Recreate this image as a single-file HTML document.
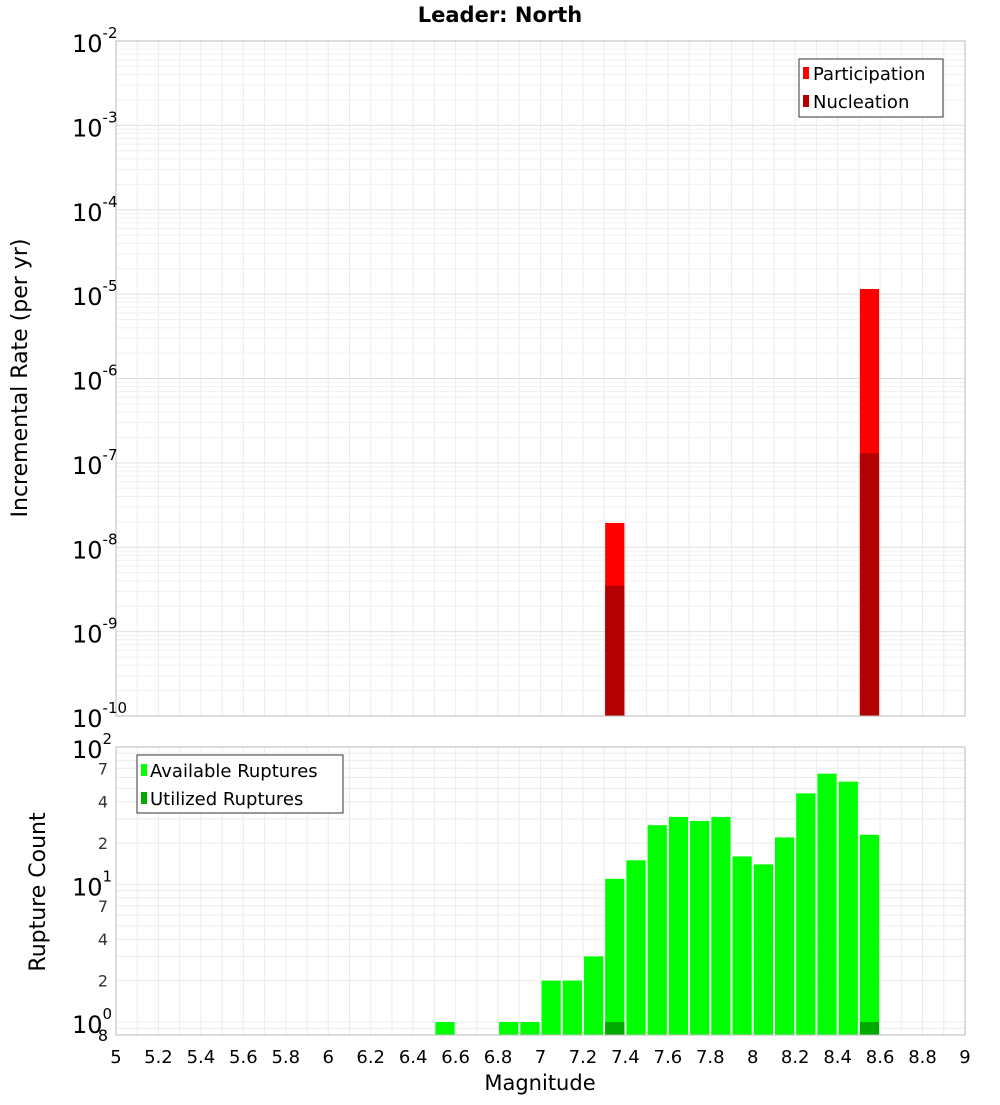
<!DOCTYPE html>
<html><head><meta charset="utf-8"><style>
body{margin:0;background:#fff;width:1000px;height:1100px;overflow:hidden}
svg text{font-family:"DejaVu Sans","Liberation Sans",sans-serif}
</style></head><body>
<svg id="c" width="1000" height="1100"></svg>
<script>
const topCats=[7.35,8.55];
const partVals=[1.94e-8,1.15e-5];
const nuclVals=[3.5e-9,1.3e-7];
const botCats=[6.55,6.85,6.95,7.05,7.15,7.25,7.35,7.45,7.55,7.65,7.75,7.85,7.95,8.05,8.15,8.25,8.35,8.45,8.55];
const availVals=[1,1,1,2,2,3,11,15,27,31,29,31,16,14,22,46,64,56,23];
const utilCats=[7.35,8.55];
const utilVals=[1,1];
const xTicks=[5,5.2,5.4,5.6,5.8,6,6.2,6.4,6.6,6.8,7,7.2,7.4,7.6,7.8,8,8.2,8.4,8.6,8.8,9];
const topExps=[-2,-3,-4,-5,-6,-7,-8,-9,-10];
const botMinor=[2,4,7,20,40,70];

const svg=document.getElementById('c');const NS='http://www.w3.org/2000/svg';
function el(t,a,txt){const e=document.createElementNS(NS,t);for(const k in a)e.setAttribute(k,a[k]);if(txt!==undefined)e.textContent=txt;svg.appendChild(e);return e;}
const X0=116,X1=965;
const x=m=>X0+(m-5)/4*(X1-X0);
const T0=41,T1=716;
const yT=v=>T0+(-2-Math.log10(v))/8*(T1-T0);
const B0=747,Bd=137.5;
const yB=v=>B0+(2-Math.log10(v))*Bd;
const B1=1035;

// grids
for(let m=5;m<=9.001;m+=0.1){
  let g=el('line',{x1:x(m),x2:x(m),y1:T0,y2:T1,stroke:'#ececec'});
  let h=el('line',{x1:x(m),x2:x(m),y1:B0,y2:B1,stroke:'#ececec'});
}
for(let e=-10;e<-2;e++)for(let k=1;k<10;k++){const y=yT(k*Math.pow(10,e));
  const g=el('line',{x1:X0,x2:X1,y1:y,y2:y,stroke:k==1?'#e0e0e0':'#f0f0f0'});}
for(let e=-1;e<2;e++)for(let k=1;k<10;k++){const v=k*Math.pow(10,e);const y=yB(v);if(y>B1)continue;
  const g=el('line',{x1:X0,x2:X1,y1:y,y2:y,stroke:'#ececec'});}

// top bars
const bw=0.1*(X1-X0)/4;
topCats.forEach((m,i)=>{
  let r=el('rect',{x:x(m)-bw/2+1,y:yT(partVals[i]),width:bw-2,height:T1-yT(partVals[i]),fill:'#ff0000'});
  
  let n=el('rect',{x:x(m)-bw/2+1,y:yT(nuclVals[i]),width:bw-2,height:T1-yT(nuclVals[i]),fill:'#b30000'});
  
});
botCats.forEach((m,i)=>{
  let r=el('rect',{x:x(m)-bw/2+1,y:yB(availVals[i]),width:bw-2,height:B1-yB(availVals[i]),fill:'#00ff00'});
  
});
utilCats.forEach((m,i)=>{
  let r=el('rect',{x:x(m)-bw/2+1,y:yB(utilVals[i]),width:bw-2,height:B1-yB(utilVals[i]),fill:'#00aa00'});
  
});
// frames
let f1=el('rect',{x:X0,y:T0,width:X1-X0,height:T1-T0,fill:'none',stroke:'#bbb'});
let f2=el('rect',{x:X0,y:B0,width:X1-X0,height:B1-B0,fill:'none',stroke:'#bbb'});

// top y labels
topExps.forEach(e=>{const y=yT(Math.pow(10,e));
  const t=el('text',{x:72,y:y+11,'font-size':24,fill:'#000'});
  t.textContent='10';const s=document.createElementNS(NS,'tspan');s.setAttribute('dy',-14);s.setAttribute('font-size',15);s.textContent=String(e);t.appendChild(s);});
[[2,'10',0],[1,'10',1],[0,'10',2]].forEach(([p])=>{});
[2,1,0].forEach(p=>{const y=yB(Math.pow(10,p));
  const t=el('text',{x:72,y:y+11,'font-size':24,fill:'#000'});
  t.textContent='10';const s=document.createElementNS(NS,'tspan');s.setAttribute('dy',-14);s.setAttribute('font-size',15);s.textContent=String(p);t.appendChild(s);});
botMinor.forEach(v=>{const y=yB(v);const t=el('text',{x:108,y:y+6,'font-size':16,fill:'#333','text-anchor':'end'},String(v%10==0?v/10:v));
  });
let t8=el('text',{x:108,y:1041,'font-size':16,fill:'#000','text-anchor':'end'},'8');
xTicks.forEach(m=>{const t=el('text',{x:x(m),y:1063,'font-size':18,'text-anchor':'middle',fill:'#000'},String(m));
  });
</script>
<svg width="1000" height="1100" style="position:absolute;left:0;top:0">
<text x="500" y="22" font-size="21" font-weight="bold" text-anchor="middle" font-family="DejaVu Sans,sans-serif">Leader: North</text>
<text transform="translate(27,378) rotate(-90)" font-size="22" text-anchor="middle" font-family="DejaVu Sans,sans-serif">Incremental Rate (per yr)</text>
<text transform="translate(45,892) rotate(-90)" font-size="22" text-anchor="middle" font-family="DejaVu Sans,sans-serif">Rupture Count</text>
<text x="540" y="1090" font-size="21" text-anchor="middle" font-family="DejaVu Sans,sans-serif">Magnitude</text>
<g>
<rect x="799" y="59" width="144" height="58" fill="#fff" stroke="#333"/>
<rect x="803" y="67" width="6" height="12" fill="#ff0000"/>
<text x="813" y="80" font-size="18" font-family="DejaVu Sans,sans-serif">Participation</text>
<rect x="803" y="95" width="6" height="12" fill="#b30000"/>
<text x="813" y="108" font-size="18" font-family="DejaVu Sans,sans-serif">Nucleation</text>
</g>
<g>
<rect x="137" y="755" width="206" height="58" fill="#fff" stroke="#333"/>
<rect x="141" y="764" width="6" height="12" fill="#00ff00"/>
<text x="150" y="777" font-size="18" font-family="DejaVu Sans,sans-serif">Available Ruptures</text>
<rect x="141" y="792" width="6" height="12" fill="#00aa00"/>
<text x="150" y="805" font-size="18" font-family="DejaVu Sans,sans-serif">Utilized Ruptures</text>
</g>
</svg>
</body></html>
